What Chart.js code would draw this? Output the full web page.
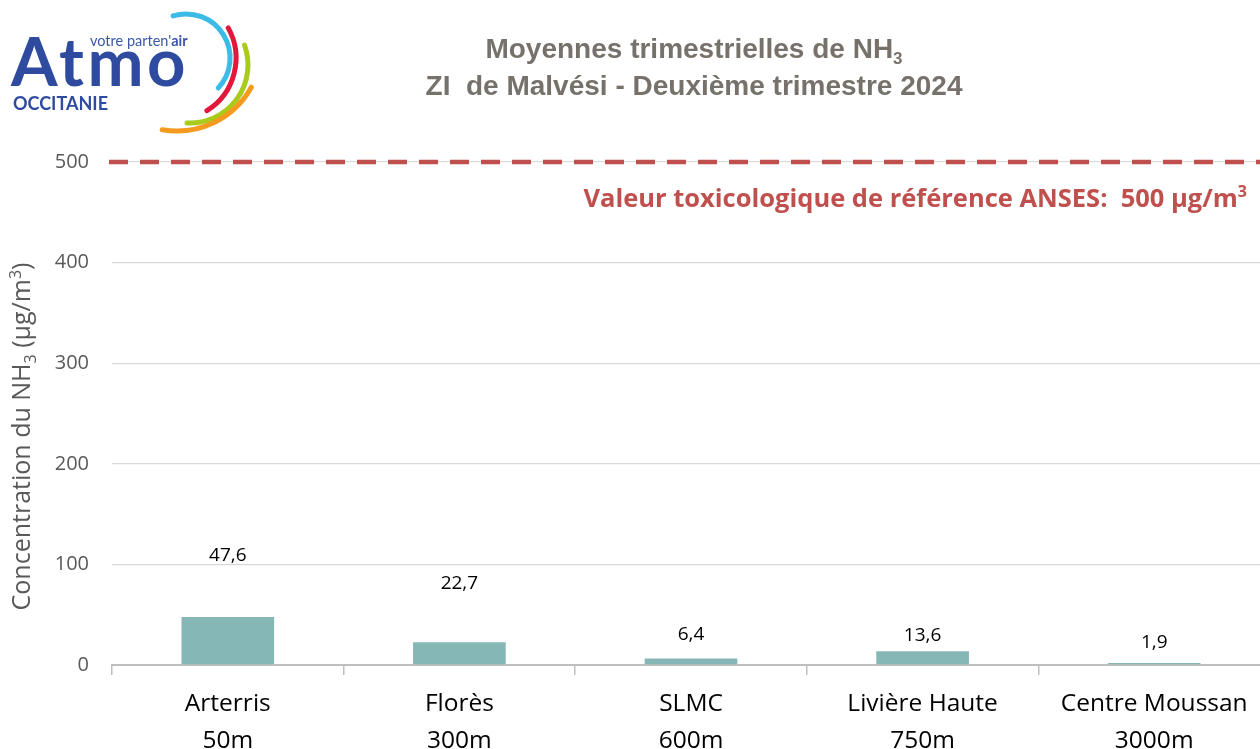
<!DOCTYPE html>
<html>
<head>
<meta charset="utf-8">
<script src="https://cdn.jsdelivr.net/npm/chart.js@4.4.1/dist/chart.umd.min.js"></script>
<style>
  html, body { margin: 0; padding: 0; background: #fff; overflow: hidden; }
  #wrap { position: relative; width: 1270px; height: 749px; }
  #logo { position: absolute; left: 0; top: 0; width: 270px; height: 145px; z-index: 2; }
</style>
</head>
<body>
<div id="wrap">
  <svg id="logo" viewBox="0 0 270 145" xmlns="http://www.w3.org/2000/svg">
    <text x="90" y="46" font-family="Lato, 'Open Sans', sans-serif" font-size="14.5" fill="#3a56a8">votre parten'<tspan font-weight="bold">air</tspan></text>
    <text x="11" y="86" font-family="Lato, 'Open Sans', sans-serif" font-weight="bold" font-size="67" letter-spacing="3.5" fill="#2f4b9f">Atmo</text>
    <text x="13" y="110" font-family="Lato, 'Open Sans', sans-serif" font-weight="bold" font-size="18" fill="#2f4b9f">OCCITANIE</text>
    <g fill="none" stroke-linecap="round" stroke-width="5">
      <path id="cy" stroke="#3bbbe6"/>
      <path id="rd" stroke="#e2173b"/>
      <path id="gr" stroke="#a8cb1c"/>
      <path id="or" stroke="#f39a1f"/>
    </g>
  </svg>
  <canvas id="c" width="1270" height="749"></canvas>
</div>
<script>
// ---- logo arcs (decoration) ----
function arcPath(cx, cy, r, a0, a1) {
  const p = a => [cx + r * Math.cos(a * Math.PI / 180), cy + r * Math.sin(a * Math.PI / 180)];
  const [x0, y0] = p(a0), [x1, y1] = p(a1);
  const large = (a1 - a0) > 180 ? 1 : 0;
  return `M${x0.toFixed(1)} ${y0.toFixed(1)} A${r} ${r} 0 ${large} 1 ${x1.toFixed(1)} ${y1.toFixed(1)}`;
}
document.getElementById('cy').setAttribute('d', arcPath(186, 58, 44, -107, 43));
document.getElementById('rd').setAttribute('d', arcPath(174, 58, 62, -29, 58));
document.getElementById('gr').setAttribute('d', arcPath(190, 65, 58, -20, 93));
document.getElementById('or').setAttribute('d', arcPath(177, 46, 85, 29, 100));

// ---- data ----
const stations = ['Arterris', 'Florès', 'SLMC', 'Livière Haute', 'Centre Moussan'];
const distances = ['50m', '300m', '600m', '750m', '3000m'];
const nh3Values = [47.6, 22.7, 6.4, 13.6, 1.9];
const referenceValue = 500;
const yTicks = [0, 100, 200, 300, 400, 500];

const categoryLabels = stations.map((s, i) => [s, distances[i]]);

const FONT = "'Open Sans', 'Noto Sans', sans-serif";
const TITLE_FONT = "'Liberation Sans', Arial, sans-serif";

// draw text made of segments (normal / sub / sup)
function drawRich(ctx, segs, x, y, size, weight, family, align) {
  const small = Math.round(size * 0.62);
  const widths = segs.map(s => {
    ctx.font = `${weight} ${s.t === 'n' ? size : small}px ${family}`;
    return ctx.measureText(s.s).width;
  });
  const total = widths.reduce((a, b) => a + b, 0);
  let cx = align === 'center' ? x - total / 2 : (align === 'right' ? x - total : x);
  ctx.textAlign = 'left';
  ctx.textBaseline = 'alphabetic';
  segs.forEach((s, i) => {
    ctx.font = `${weight} ${s.t === 'n' ? size : small}px ${family}`;
    const dy = s.t === 'sub' ? size * 0.22 : (s.t === 'sup' ? -size * 0.38 : 0);
    ctx.fillText(s.s, cx, y + dy);
    cx += widths[i];
  });
}

const decorPlugin = {
  id: 'decor',
  beforeDatasetsDraw(chart) {
    const { ctx, chartArea, scales } = chart;
    const y = scales.y.getPixelForValue(referenceValue);
    ctx.save();
    ctx.strokeStyle = '#c0504d';
    ctx.lineWidth = 4.5;
    ctx.setLineDash([19, 12]);
    ctx.beginPath();
    ctx.moveTo(chartArea.left - 3, y);
    ctx.lineTo(chartArea.right, y);
    ctx.stroke();
    ctx.restore();
  },
  afterDraw(chart) {
    const { ctx, chartArea, scales } = chart;
    ctx.save();
    // Title
    ctx.fillStyle = '#77716b';
    drawRich(ctx, [{ s: 'Moyennes trimestrielles de NH', t: 'n' }, { s: '3', t: 'sub' }], 694, 58, 28, 'bold', TITLE_FONT, 'center');
    drawRich(ctx, [{ s: 'ZI  de Malvési - Deuxième trimestre 2024', t: 'n' }], 694, 95, 28, 'bold', TITLE_FONT, 'center');

    // Reference label
    const yRef = scales.y.getPixelForValue(referenceValue);
    ctx.fillStyle = '#c0504d';
    drawRich(ctx, [{ s: 'Valeur toxicologique de référence ANSES:  500 µg/m', t: 'n' }, { s: '3', t: 'sup' }],
      1247, yRef + 45, 25.5, 'bold', FONT, 'right');

    // Y axis title (rotated)
    ctx.save();
    ctx.translate(30, (chartArea.top + chartArea.bottom) / 2 + 23);
    ctx.rotate(-Math.PI / 2);
    ctx.fillStyle = '#595959';
    drawRich(ctx, [{ s: 'Concentration du NH', t: 'n' }, { s: '3', t: 'sub' }, { s: ' (µg/m', t: 'n' }, { s: '3', t: 'sup' }, { s: ')', t: 'n' }],
      0, 0, 25, 'normal', FONT, 'center');
    ctx.restore();

    // Data labels
    const offsets = chart.options.plugins.decor.labelOffsets;
    const meta = chart.getDatasetMeta(0);
    ctx.fillStyle = '#000';
    ctx.font = `19px ${FONT}`;
    ctx.textAlign = 'center';
    ctx.textBaseline = 'middle';
    meta.data.forEach((bar, i) => {
      const v = chart.data.datasets[0].data[i];
      ctx.fillText(v.toFixed(1).replace('.', ','), bar.x, bar.y - offsets[i]);
    });
    ctx.restore();
  }
};

new Chart(document.getElementById('c'), {
  type: 'bar',
  data: {
    labels: categoryLabels,
    datasets: [{
      data: nh3Values,
      backgroundColor: '#84b7b6',
      borderWidth: 0,
      categoryPercentage: 0.8,
      barPercentage: 0.5
    }]
  },
  options: {
    responsive: false,
    animation: false,
    layout: { padding: { top: 162, right: 0, left: 0, bottom: 0 } },
    plugins: {
      legend: { display: false },
      tooltip: { enabled: false },
      decor: { labelOffsets: [62, 59, 24, 16, 20] }
    },
    scales: {
      y: {
        min: 0,
        max: 500,
        afterFit: s => { s.width = 112; },
        afterBuildTicks: s => { s.ticks = yTicks.map(v => ({ value: v })); },
        grid: { color: '#d9d9d9', lineWidth: 1.3, drawTicks: false },
        border: { display: false },
        ticks: { padding: 23, color: '#595959', font: { family: FONT, size: 20 } }
      },
      x: {
        afterFit: s => { s.height = 84; },
        grid: { offset: true, drawOnChartArea: false, tickLength: 10, color: '#bfbfbf', lineWidth: 1.5 },
        border: { display: true, color: '#bfbfbf', width: 2 },
        ticks: { padding: 11, color: '#000', font: { family: FONT, size: 24.5, lineHeight: 1.5 } }
      }
    }
  },
  plugins: [decorPlugin]
});
</script>
</body>
</html>
